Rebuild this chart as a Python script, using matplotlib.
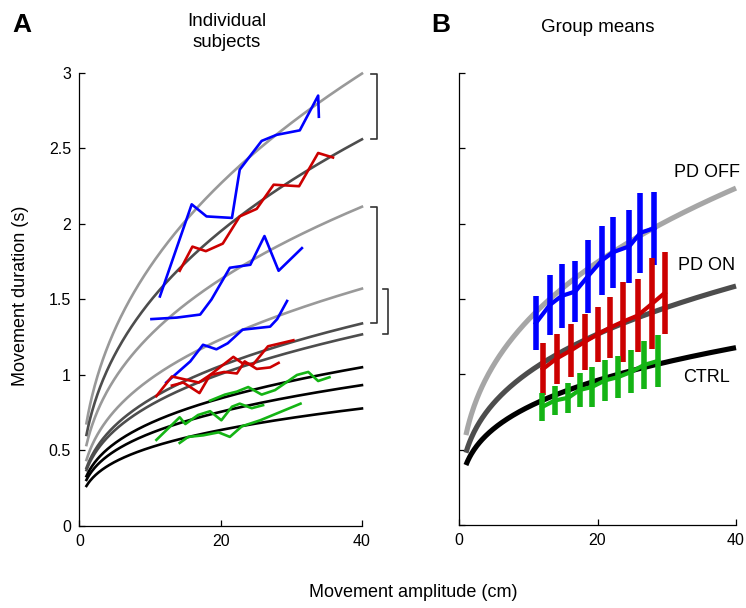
import numpy as np
import matplotlib.pyplot as plt

plt.rcParams['font.family'] = ['Liberation Sans', 'DejaVu Sans']

# --- Individual subjects: power-law fits T = a * A^b (OFF, ON, CTRL) ---
off_a = [0.68, 0.536, 0.437]
off_b = [0.402, 0.372, 0.347]
on_a = [0.603, 0.384, 0.370]
on_b = [0.392, 0.339, 0.334]
ctrl_a = [0.330, 0.305, 0.265]
ctrl_b = [0.314, 0.303, 0.292]

# measured durations, PD OFF (blue)
off_x1 = [11.4, 15.9, 18.0, 21.6, 22.7, 25.8, 27.9, 31.2, 33.8, 33.9]
off_y1 = [1.52, 2.13, 2.05, 2.04, 2.36, 2.55, 2.59, 2.62, 2.85, 2.71]
off_x2 = [10.2, 13.8, 17.1, 18.7, 21.3, 24.2, 26.2, 28.2, 31.5]
off_y2 = [1.37, 1.38, 1.40, 1.50, 1.71, 1.73, 1.92, 1.69, 1.84]
off_x3 = [12.3, 15.7, 17.5, 19.4, 21.0, 23.1, 27.0, 28.0, 29.4]
off_y3 = [0.95, 1.09, 1.20, 1.17, 1.21, 1.30, 1.32, 1.37, 1.49]

# PD ON (red)
on_x1 = [14.2, 16.0, 17.9, 20.3, 22.7, 25.1, 27.5, 31.1, 33.8, 35.9]
on_y1 = [1.69, 1.85, 1.82, 1.87, 2.05, 2.10, 2.26, 2.25, 2.47, 2.44]
on_x2 = [10.9, 13.1, 16.9, 18.5, 21.8, 23.0, 24.6, 26.7, 30.3]
on_y2 = [0.86, 0.99, 0.95, 1.00, 1.12, 1.08, 1.07, 1.19, 1.23]
on_x3 = [13.1, 14.7, 17.0, 18.5, 20.5, 22.3, 23.4, 25.1, 27.0, 28.2]
on_y3 = [0.93, 0.95, 0.88, 1.00, 1.02, 1.01, 1.09, 1.04, 1.05, 1.08]

# CTRL (green)
ctrl_x1 = [18.5, 20.6, 22.3, 23.9, 25.8, 27.7, 30.8, 32.4, 33.8, 35.4]
ctrl_y1 = [0.83, 0.87, 0.89, 0.92, 0.87, 0.90, 1.00, 1.02, 0.96, 0.985]
ctrl_x2 = [10.9, 14.2, 15.0, 16.8, 18.5, 20.1, 21.6, 22.7, 24.4, 26.0]
ctrl_y2 = [0.57, 0.72, 0.675, 0.735, 0.76, 0.70, 0.79, 0.81, 0.78, 0.80]
ctrl_x3 = [14.2, 15.4, 17.5, 19.7, 21.3, 23.0, 25.6, 31.3]
ctrl_y3 = [0.55, 0.59, 0.60, 0.62, 0.59, 0.66, 0.70, 0.81]

# --- Group means: fits and binned means +/- error ---
grp_a = [0.597, 0.480, 0.398]   # PD OFF, PD ON, CTRL
grp_b = [0.358, 0.324, 0.294]

gm_off_x = [11.1, 13.1, 14.8, 16.8, 18.6, 20.6, 22.2, 24.6, 26.2, 28.2]
gm_off_y = [1.34, 1.46, 1.52, 1.55, 1.65, 1.755, 1.81, 1.85, 1.94, 1.97]
gm_off_e = [0.18, 0.20, 0.215, 0.205, 0.24, 0.227, 0.236, 0.241, 0.265, 0.242]

gm_on_x = [12.1, 14.1, 16.2, 18.2, 20.0, 21.8, 23.7, 25.8, 27.9, 29.7]
gm_on_y = [1.035, 1.105, 1.16, 1.217, 1.265, 1.31, 1.35, 1.39, 1.47, 1.54]
gm_on_e = [0.171, 0.166, 0.177, 0.186, 0.18, 0.201, 0.265, 0.245, 0.30, 0.27]

gm_ctrl_x = [12.0, 13.8, 15.8, 17.4, 19.2, 21.1, 23.0, 24.9, 26.7, 28.8]
gm_ctrl_y = [0.783, 0.826, 0.845, 0.896, 0.916, 0.96, 0.982, 1.017, 1.062, 1.09]
gm_ctrl_e = [0.091, 0.096, 0.10, 0.115, 0.13, 0.135, 0.141, 0.144, 0.161, 0.171]

LIGHT = '#999999'
DARK = '#4d4d4d'
BLUE = '#0000ff'
RED = '#cc0000'
GREEN = '#14b414'

fig = plt.figure(figsize=(7.46, 6.08), dpi=100)
axA = fig.add_axes([0.1064, 0.1349, 0.3788, 0.7451])
axB = fig.add_axes([0.6153, 0.1365, 0.3713, 0.7434])

amp = np.linspace(1, 40, 300)

# panel A: fitted curves
for a, b in zip(off_a, off_b):
    axA.plot(amp, a * amp ** b, color=LIGHT, lw=1.9, clip_on=False)
for a, b in zip(on_a, on_b):
    axA.plot(amp, a * amp ** b, color=DARK, lw=1.9, clip_on=False)
for a, b in zip(ctrl_a, ctrl_b):
    axA.plot(amp, a * amp ** b, color='black', lw=1.9, clip_on=False)

# panel A: raw subject data
for xs, ys in [(off_x1, off_y1), (off_x2, off_y2), (off_x3, off_y3)]:
    axA.plot(xs, ys, color=BLUE, lw=1.9)
for xs, ys in [(on_x1, on_y1), (on_x2, on_y2), (on_x3, on_y3)]:
    axA.plot(xs, ys, color=RED, lw=1.9)
for xs, ys in [(ctrl_x1, ctrl_y1), (ctrl_x2, ctrl_y2), (ctrl_x3, ctrl_y3)]:
    axA.plot(xs, ys, color=GREEN, lw=1.9)

# brackets pairing OFF/ON fits of each patient at 40 cm
bracket_x = [42.1, 42.1, 43.7]
for i, bx in enumerate(bracket_x):
    top = off_a[i] * 40 ** off_b[i]
    bot = on_a[i] * 40 ** on_b[i]
    axA.plot([bx - 0.75, bx, bx, bx - 0.75], [top, top, bot, bot],
             color='#333333', lw=1.2, clip_on=False)

# panel B: group fits
grp_col = ['#a6a6a6', DARK, 'black']
for a, b, c in zip(grp_a, grp_b, grp_col):
    axB.plot(amp, a * amp ** b, color=c, lw=3.7, solid_capstyle='butt',
             clip_on=False)

for xs, ys, es, c in [(gm_off_x, gm_off_y, gm_off_e, BLUE),
                      (gm_on_x, gm_on_y, gm_on_e, RED),
                      (gm_ctrl_x, gm_ctrl_y, gm_ctrl_e, GREEN)]:
    axB.errorbar(xs, ys, yerr=es, color=c, lw=3.0, elinewidth=4.0,
                 capsize=0)

axB.text(35.8, 2.34, 'PD OFF', fontsize=13, ha='center', va='center')
axB.text(35.8, 1.72, 'PD ON', fontsize=13, ha='center', va='center')
axB.text(35.8, 0.98, 'CTRL', fontsize=13, ha='center', va='center')

for ax in (axA, axB):
    ax.set_xlim(0, 40)
    ax.set_ylim(0, 3)
    ax.set_xticks([0, 20, 40])
    ax.set_yticks([0, 0.5, 1, 1.5, 2, 2.5, 3])
    ax.spines['top'].set_visible(False)
    ax.spines['right'].set_visible(False)
    ax.spines['left'].set_linewidth(0.9)
    ax.spines['bottom'].set_linewidth(0.9)
    ax.tick_params(direction='in', length=4, width=0.9, labelsize=11.5,
                   pad=6)

axA.set_yticklabels(['0', '0.5', '1', '1.5', '2', '2.5', '3'])
axB.set_yticklabels([])

fig.text(0.0295, 0.959, 'A', fontsize=19, fontweight='bold',
         ha='center', va='center')
fig.text(0.591, 0.959, 'B', fontsize=19, fontweight='bold',
         ha='center', va='center')
fig.text(0.3043, 0.947, 'Individual\nsubjects', fontsize=13.5,
         ha='center', va='center', linespacing=1.3)
fig.text(0.8016, 0.954, 'Group means', fontsize=13.5,
         ha='center', va='center')
fig.text(0.027, 0.513, 'Movement duration (s)', fontsize=13,
         rotation=90, ha='center', va='center')
fig.text(0.5536, 0.0247, 'Movement amplitude (cm)', fontsize=13,
         ha='center', va='center')

fig.savefig('out.png', dpi=100)
